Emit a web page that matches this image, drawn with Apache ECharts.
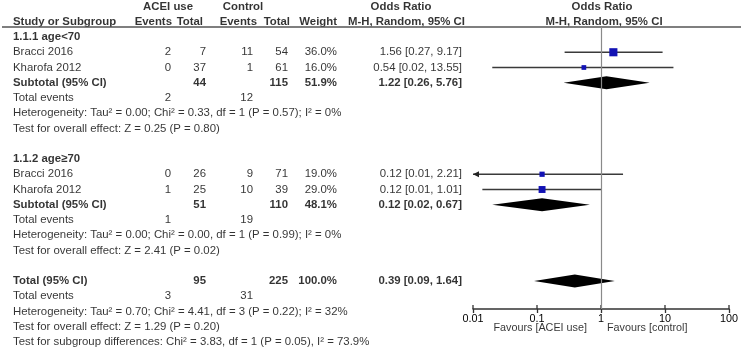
<!DOCTYPE html>
<html>
<head>
<meta charset="utf-8">
<script src="https://cdn.jsdelivr.net/npm/echarts@6/dist/echarts.min.js"></script>
<style>
  html, body { margin: 0; padding: 0; background: #fff; }
  #main { width: 743px; height: 350px; }
</style>
</head>
<body>
<div id="main"></div>
<script>
// rows of the table, top to bottom
const rowLabels = [
  '1.1.1 age<70', 'Bracci 2016', 'Kharofa 2012', 'Subtotal (95% CI)', 'Total events',
  'Heterogeneity: Tau² = 0.00; Chi² = 0.33, df = 1 (P = 0.57); I² = 0%',
  'Test for overall effect: Z = 0.25 (P = 0.80)', '',
  '1.1.2 age≥70', 'Bracci 2016', 'Kharofa 2012', 'Subtotal (95% CI)', 'Total events',
  'Heterogeneity: Tau² = 0.00; Chi² = 0.00, df = 1 (P = 0.99); I² = 0%',
  'Test for overall effect: Z = 2.41 (P = 0.02)', '',
  'Total (95% CI)', 'Total events',
  'Heterogeneity: Tau² = 0.70; Chi² = 4.41, df = 3 (P = 0.22); I² = 32%',
  'Test for overall effect: Z = 1.29 (P = 0.20)',
  'Test for subgroup differences: Chi² = 3.83, df = 1 (P = 0.05), I² = 73.9%'
];
const boldRows = [0, 3, 8, 11, 16];

const aceiEvents   = [null, 2, 0, null, 2, null, null, null, null, 0, 1, null, 1, null, null, null, null, 3, null, null, null];
const aceiTotal    = [null, 7, 37, 44, null, null, null, null, null, 26, 25, 51, null, null, null, null, 95, null, null, null, null];
const ctrlEvents   = [null, 11, 1, null, 12, null, null, null, null, 9, 10, null, 19, null, null, null, null, 31, null, null, null];
const ctrlTotal    = [null, 54, 61, 115, null, null, null, null, null, 71, 39, 110, null, null, null, null, 225, null, null, null, null];
const weightText   = [null, '36.0%', '16.0%', '51.9%', null, null, null, null, null, '19.0%', '29.0%', '48.1%', null, null, null, null, '100.0%', null, null, null, null];
const orText = [null, '1.56 [0.27, 9.17]', '0.54 [0.02, 13.55]', '1.22 [0.26, 5.76]', null, null, null, null, null,
  '0.12 [0.01, 2.21]', '0.12 [0.01, 1.01]', '0.12 [0.02, 0.67]', null, null, null, null, '0.39 [0.09, 1.64]', null, null, null, null];

// individual studies (plot)
const studyRows   = [1, 2, 9, 10];
const studyOR     = [1.56, 0.54, 0.12, 0.12];
const studyLo     = [0.27, 0.02, 0.009, 0.014];
const studyHi     = [9.17, 13.55, 2.21, 1.01];
const studyWeight = [36.0, 16.0, 19.0, 29.0];

// pooled estimates (diamonds)
const pooledRows = [3, 11, 16];
const pooledOR   = [1.22, 0.12, 0.39];
const pooledLo   = [0.26, 0.02, 0.09];
const pooledHi   = [5.76, 0.67, 1.64];

const tickValues = [0.01, 0.1, 1, 10, 100];
const tickLabels = ['0.01', '0.1', '1', '10', '100'];
const favours = ['Favours [ACEI use]', 'Favours [control]'];

// layout
const W = 743, H = 350;
const ROW0 = 37, ROWH = 15.25;       // pixel centre of first row, row pitch
const PLOT_L = 473, PLOT_R = 729, PLOT_T = 27, PLOT_B = 309;
const FONT = 'Liberation Sans, Arial, sans-serif';
const FS = 11.4;
const TXT = '#000';
const toRow = px => (px - ROW0) / ROWH;

// column anchors (x of the text edge)
const cols = {
  label: 13, aceiEv: 171, aceiTot: 206, ctrlEv: 253, ctrlTot: 288, weight: 337, or: 462
};

function textSeries(items, pos, size) {
  return {
    type: 'scatter', xAxisIndex: 0, yAxisIndex: 0, symbolSize: 0, silent: true, clip: false,
    data: items.map(it => ({
      value: [it.x, it.row, it.text],
      label: { fontWeight: it.bold ? 'bold' : 'normal' }
    })),
    label: {
      show: true, position: pos, distance: 0, formatter: p => p.data.value[2],
      fontFamily: FONT, fontSize: size || FS, color: TXT
    }
  };
}

function column(arr, x) {
  const out = [];
  arr.forEach((v, i) => {
    if (v !== null && v !== '') out.push({ x: x, row: i, text: String(v), bold: boldRows.includes(i) });
  });
  return out;
}

const leftItems = column(rowLabels, cols.label);
leftItems.push({ x: cols.label, row: -1, text: 'Study or Subgroup', bold: true });

const rightItems = []
  .concat(column(aceiEvents, cols.aceiEv))
  .concat(column(aceiTotal, cols.aceiTot))
  .concat(column(ctrlEvents, cols.ctrlEv))
  .concat(column(ctrlTotal, cols.ctrlTot))
  .concat(column(weightText, cols.weight))
  .concat(column(orText, cols.or));
rightItems.push(
  { x: 172, row: -1, text: 'Events', bold: true },
  { x: 203, row: -1, text: 'Total', bold: true },
  { x: 257, row: -1, text: 'Events', bold: true },
  { x: 290, row: -1, text: 'Total', bold: true },
  { x: 337, row: -1, text: 'Weight', bold: true },
  { x: 465, row: -1, text: 'M-H, Random, 95% CI', bold: true }
);

const centerItems = [
  { x: 168, row: -2, text: 'ACEI use', bold: true },
  { x: 243, row: -2, text: 'Control', bold: true },
  { x: 401, row: -2, text: 'Odds Ratio', bold: true },
  { x: 602, row: -2, text: 'Odds Ratio', bold: true },
  { x: 604, row: -1, text: 'M-H, Random, 95% CI', bold: true }
];

const favRow = toRow(328);

const chart = echarts.init(document.getElementById('main'));
chart.setOption({
  animation: false,
  backgroundColor: '#fff',
  grid: [
    { left: 0, right: 0, top: 0, bottom: 0 },
    { left: PLOT_L, right: W - PLOT_R, top: PLOT_T, bottom: H - PLOT_B }
  ],
  xAxis: [
    { gridIndex: 0, type: 'value', min: 0, max: W, show: false },
    {
      gridIndex: 1, type: 'log', logBase: 10, min: 0.01, max: 100, position: 'bottom',
      axisLine: { show: true, onZero: false, lineStyle: { color: '#333', width: 1.5 } },
      axisTick: { show: true, length: 4, lineStyle: { color: '#333', width: 1.3 } },
      axisLabel: {
        margin: 5, fontFamily: FONT, fontSize: 10.8, color: TXT,
        formatter: v => tickLabels[tickValues.findIndex(t => Math.abs(Math.log10(t) - Math.log10(v)) < 1e-6)]
      },
      splitLine: { show: false }
    }
  ],
  yAxis: [
    { gridIndex: 0, type: 'value', inverse: true, min: toRow(0), max: toRow(H), show: false },
    { gridIndex: 1, type: 'value', inverse: true, min: toRow(PLOT_T), max: toRow(PLOT_B), show: false }
  ],
  series: [
    // header rule
    {
      type: 'line', xAxisIndex: 0, yAxisIndex: 0, data: [], silent: true,
      markLine: {
        silent: true, symbol: 'none', label: { show: false },
        lineStyle: { color: '#555', width: 1.5, type: 'solid' },
        data: [[{ coord: [2, toRow(PLOT_T)] }, { coord: [741, toRow(PLOT_T)] }]]
      }
    },
    textSeries(leftItems, 'right'),
    textSeries(rightItems, 'left'),
    textSeries(centerItems, 'inside'),
    textSeries([{ x: 587, row: favRow, text: favours[0] }], 'left', 10.8),
    textSeries([{ x: 607, row: favRow, text: favours[1] }], 'right', 10.8),
    // upper half of the axis ticks (the axis draws the lower half)
    {
      type: 'custom', xAxisIndex: 1, yAxisIndex: 1, silent: true, clip: false,
      data: tickValues.map(v => [v, toRow(PLOT_B)]),
      renderItem: (params, api) => {
        const p = api.coord([api.value(0), api.value(1)]);
        return {
          type: 'line', shape: { x1: p[0], y1: p[1], x2: p[0], y2: p[1] - 4 },
          style: { stroke: '#333', lineWidth: 1.3 }
        };
      }
    },
    // confidence intervals
    {
      type: 'custom', xAxisIndex: 1, yAxisIndex: 1, silent: true,
      data: studyRows.map((r, i) => [studyOR[i], r, studyLo[i], studyHi[i]]),
      encode: { x: [0, 2, 3], y: 1 },
      renderItem: (params, api) => {
        const row = api.value(1), lo = api.value(2), hi = api.value(3);
        const a = api.coord([Math.max(lo, 0.01), row]);
        const b = api.coord([Math.min(hi, 100), row]);
        const children = [{
          type: 'line', shape: { x1: a[0], y1: a[1], x2: b[0], y2: b[1] },
          style: { stroke: '#3a3a3a', lineWidth: 1.3 }
        }];
        if (lo < 0.01) {
          children.push({
            type: 'polygon',
            shape: { points: [[a[0], a[1]], [a[0] + 6, a[1] - 3], [a[0] + 6, a[1] + 3]] },
            style: { fill: '#222' }
          });
        }
        return { type: 'group', children: children };
      }
    },
    // study squares
    {
      type: 'scatter', xAxisIndex: 1, yAxisIndex: 1, silent: true, symbol: 'rect',
      data: studyRows.map((r, i) => [studyOR[i], r, studyWeight[i]]),
      symbolSize: v => 2 + v[2] * 0.17,
      itemStyle: { color: '#1212b4', opacity: 1 },
      markLine: {
        silent: true, symbol: 'none', label: { show: false },
        lineStyle: { color: '#8a8a8a', width: 1.2, type: 'solid' },
        data: [{ xAxis: 1 }]
      },
      z: 5
    },
    // pooled diamonds
    {
      type: 'custom', xAxisIndex: 1, yAxisIndex: 1, silent: true,
      data: pooledRows.map((r, i) => [pooledOR[i], r, pooledLo[i], pooledHi[i]]),
      encode: { x: [0, 2, 3], y: 1 },
      renderItem: (params, api) => {
        const row = api.value(1);
        const c = api.coord([api.value(0), row]);
        const l = api.coord([api.value(2), row]);
        const r = api.coord([api.value(3), row]);
        const h = 6.5;
        return {
          type: 'polygon',
          shape: { points: [[l[0], c[1]], [c[0], c[1] - h], [r[0], c[1]], [c[0], c[1] + h]] },
          style: { fill: '#000' }
        };
      },
      z: 4
    }
  ]
});
</script>
</body>
</html>
